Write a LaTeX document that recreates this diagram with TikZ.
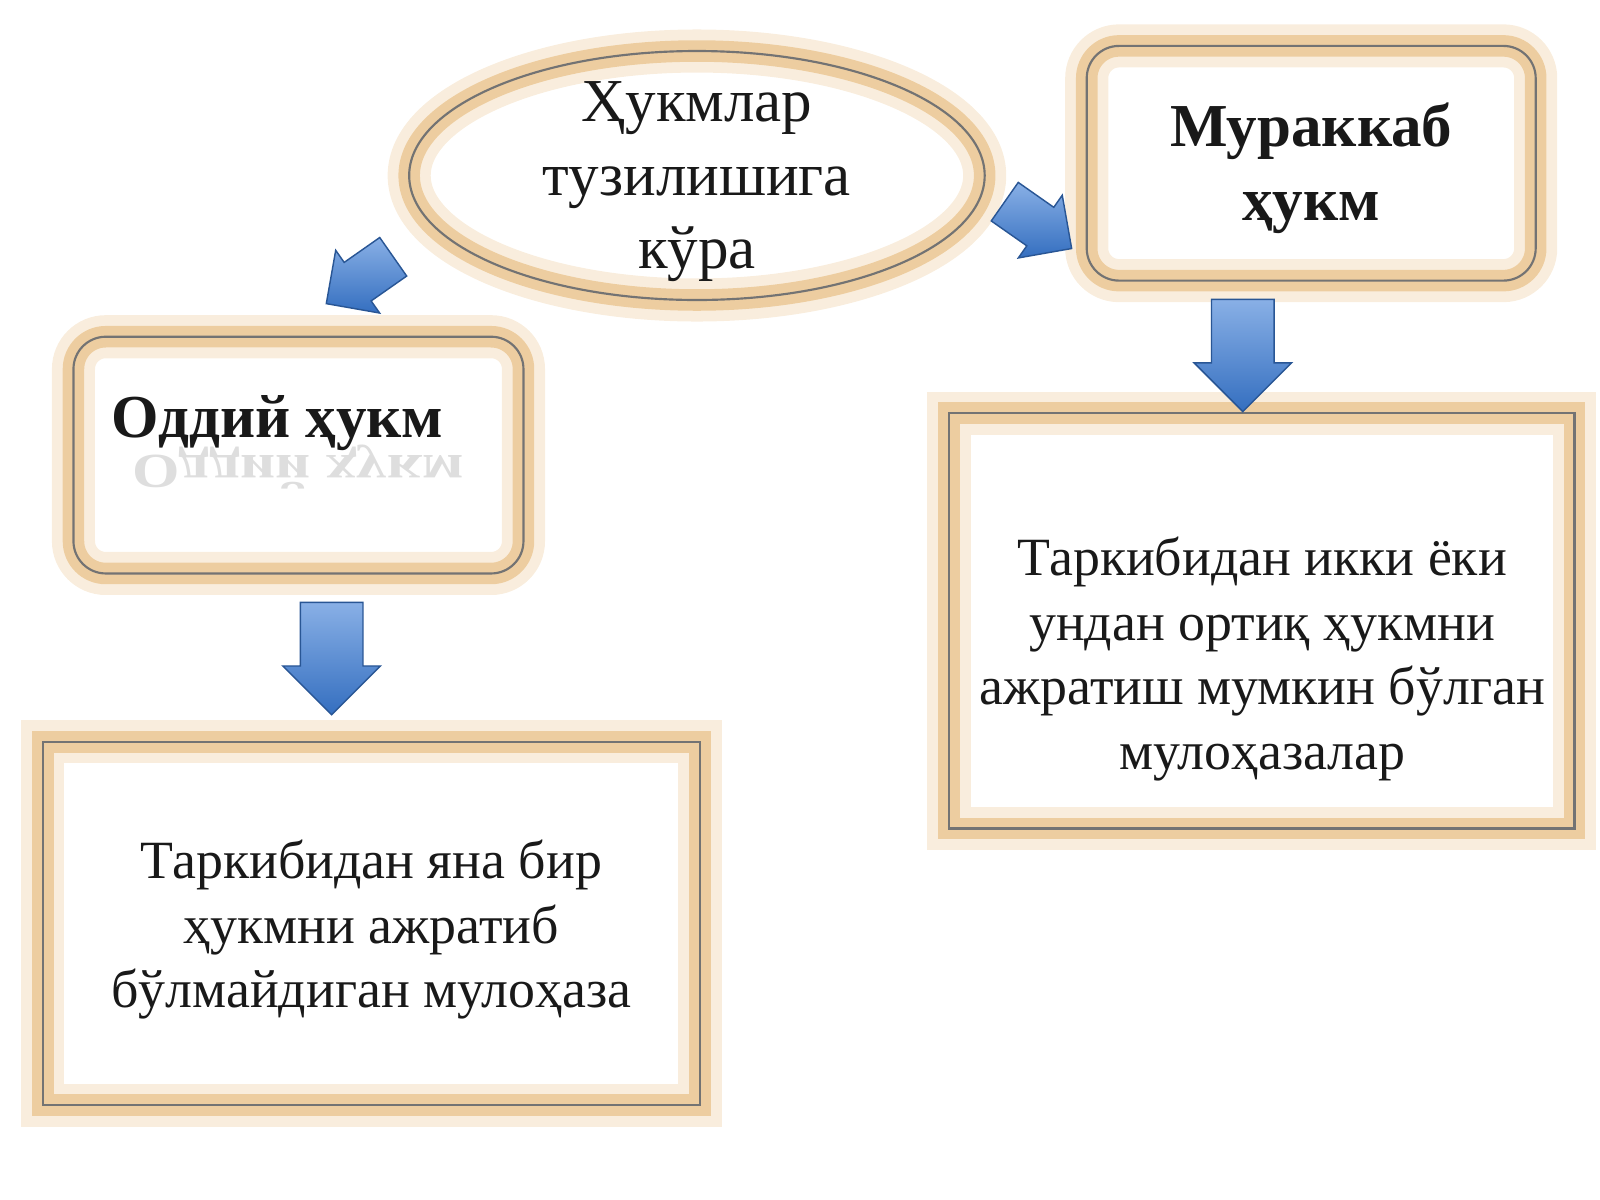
\documentclass[tikz,border=0pt]{standalone}
\usepackage{fontspec}
\setmainfont{Liberation Serif}
\usetikzlibrary{shapes.arrows}
\definecolor{glow}{HTML}{E6B877}
\definecolor{arrblue}{HTML}{3A7BD5}
\begin{document}
\begin{tikzpicture}[x=0.01cm,y=-0.01cm,
  g1/.style={draw=glow,line width=12pt,draw opacity=0.25},
  g2/.style={draw=glow,line width=6pt,draw opacity=0.6},
  edge/.style={draw=black!55,line width=0.6pt},
  txt/.style={font=\fontsize{15}{18}\selectfont,align=center,text=black!90},
  blk/.style={single arrow,single arrow head extend=0.17cm,minimum height=1.1cm,minimum width=0.95cm,
    inner xsep=0pt,inner ysep=0.3cm,shade,top color=arrblue!60,bottom color=arrblue!90!black,draw=arrblue!70!black}]
\useasboundingbox (0,0) rectangle (1568,1176);
% ellipse
\draw[g1] (683,172) ellipse (282 and 122);
\draw[g2] (683,172) ellipse (282 and 122);
\draw[edge] (683,172) ellipse (282 and 122);
\node[txt,font=\fontsize{17}{20.5}\selectfont] (e) at (683,178) {Ҳукмлар\\тузилишига\\кўра};
% murakkab
\foreach \s in {g1,g2,edge}{\draw[\s,rounded corners=9pt] (1065,45) rectangle (1505,275);}
\node[txt,font=\bfseries\fontsize{17}{20.5}\selectfont] (m) at (1285,165) {Мураккаб\\ҳукм};
% oddiy
\foreach \s in {g1,g2,edge}{\draw[\s,rounded corners=9pt] (72,330) rectangle (513,562);}
\node[txt,font=\bfseries\fontsize{17}{20}\selectfont] (o) at (272,415) {Оддий ҳукм};
\node[txt,font=\bfseries\fontsize{17}{20}\selectfont,text=black!13] (or) at (292,458) {\scalebox{1}[-0.8]{Оддий ҳукм}};
% bottom left
\foreach \s in {g1,g2,edge}{\draw[\s] (42,727) rectangle (686,1083);}
\node[txt] (bl) at (364,911) {Таркибидан яна бир\\ҳукмни ажратиб\\бўлмайдиган мулоҳаза};
% right
\foreach \s in {g1,g2,edge}{\draw[\s] (930,405) rectangle (1543,812);}
\node[txt] (br) at (1237,646) {Таркибидан икки ёки\\ундан ортиқ ҳукмни\\ажратиш мумкин бўлган\\мулоҳазалар};
% arrows
\node[blk,rotate=-90] (a1) at (325,630) {};
\node[blk,rotate=-90] (a2) at (1218,333) {};
\node[blk,rotate=215,minimum height=0.8cm,minimum width=0.75cm,inner ysep=0.2cm,single arrow head extend=0.13cm] (a3) at (362,268) {};
\node[blk,rotate=-35,minimum height=0.8cm,minimum width=0.75cm,inner ysep=0.2cm,single arrow head extend=0.13cm] (a4) at (1008,214) {};
\end{tikzpicture}
\end{document}
